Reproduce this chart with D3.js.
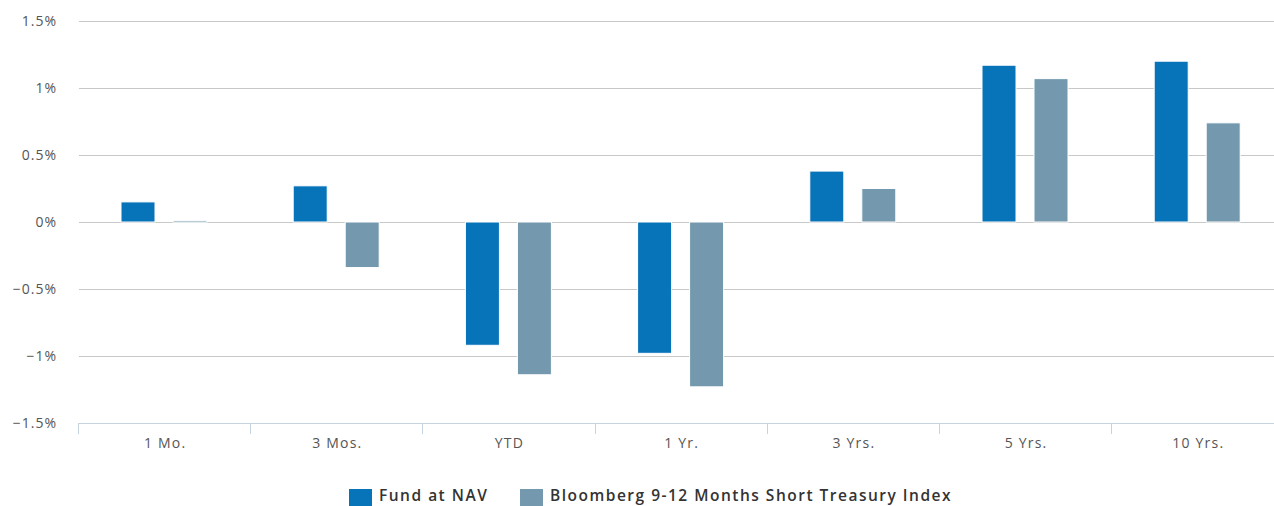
<!DOCTYPE html>
<html><head><meta charset="utf-8">
<script src="https://cdn.jsdelivr.net/npm/d3@7"></script>
<style>
body{margin:0;background:#fff;overflow:hidden}
svg{display:block}
text{font-family:"Open Sans",sans-serif}
</style></head><body>
<svg id="c" width="1274" height="506"></svg>
<script>
const categories=["1 Mo.","3 Mos.","YTD","1 Yr.","3 Yrs.","5 Yrs.","10 Yrs."];
const seriesNames=["Fund at NAV","Bloomberg 9-12 Months Short Treasury Index"];
const fundValues=[0.15,0.27,-0.92,-0.98,0.38,1.17,1.20];
const indexValues=[0.01,-0.34,-1.14,-1.23,0.25,1.07,0.74];
const yTicks=[-1.5,-1,-0.5,0,0.5,1,1.5];
const colors=["#0773b9","#7499ae"];

const svg=d3.select("#c");
const mLeft=79,mRight=1284.4,mTop=21,mBottom=423;
const x=d3.scaleBand().domain(categories).range([mLeft,mRight]).paddingInner(0).paddingOuter(0);
const y=d3.scaleLinear().domain([-1.5,1.5]).range([mBottom,mTop]);
const xs=d3.scaleBand().domain([0,1]).range([42,128]).paddingInner(2-86/52).paddingOuter(0);

// grid
svg.append("g").selectAll("line").data(yTicks.filter(d=>d!==-1.5)).join("line")
 .attr("x1",mLeft).attr("x2",1274).attr("y1",d=>Math.round(y(d))+0.5).attr("y2",d=>Math.round(y(d))+0.5)
 .attr("stroke","#c8c8c8").attr("stroke-width",1.2);

// y labels
svg.append("g").selectAll("text").data(yTicks).join("text")
 .attr("x",57).attr("y",d=>y(d)+5).attr("text-anchor","end")
 .attr("fill","#555").attr("font-size",14).attr("letter-spacing","1px")
 .text(d=>(d<0?"\u2212":"")+Math.abs(d)+"%");

// bars
const data=categories.map((c,i)=>({c,vals:[fundValues[i],indexValues[i]]}));
svg.append("g").selectAll("g").data(data).join("g")
 .attr("transform",d=>`translate(${x(d.c)},0)`)
 .selectAll("rect").data(d=>d.vals.map((v,k)=>({v,k}))).join("rect")
 .attr("x",d=>xs(d.k)).attr("width",xs.bandwidth())
 .attr("y",d=>Math.min(y(d.v),y(0))).attr("height",d=>Math.max(1.5,Math.abs(y(d.v)-y(0))))
 .attr("fill",d=>colors[d.k]).attr("stroke","#fff").attr("stroke-width",1);

// x axis
const xa=svg.append("g").attr("transform",`translate(0,${mBottom})`);
xa.append("line").attr("x1",mLeft).attr("x2",1274).attr("y1",0.5).attr("y2",0.5).attr("stroke","#c6d4e2");
xa.selectAll("line.t").data(categories).join("line").attr("class","t")
 .attr("x1",d=>Math.round(x(d))-0.5).attr("x2",d=>Math.round(x(d))-0.5).attr("y1",0).attr("y2",11).attr("stroke","#c6d4e2");
xa.selectAll("text").data(categories).join("text")
 .attr("x",d=>x(d)+x.bandwidth()/2).attr("y",25).attr("text-anchor","middle")
 .attr("fill","#555").attr("font-size",14).attr("letter-spacing","1.2px").text(d=>d);

// legend
const lg=svg.append("g");
const lx=[349,520];
seriesNames.forEach((n,k)=>{
  lg.append("rect").attr("x",lx[k]).attr("y",489).attr("width",23).attr("height",17).attr("fill",colors[k]);
  lg.append("text").attr("x",lx[k]+30).attr("y",501).attr("font-size",15.5).attr("font-weight",600)
   .attr("fill","#333").attr("letter-spacing","1.5px").text(n);
});
</script></body></html>
